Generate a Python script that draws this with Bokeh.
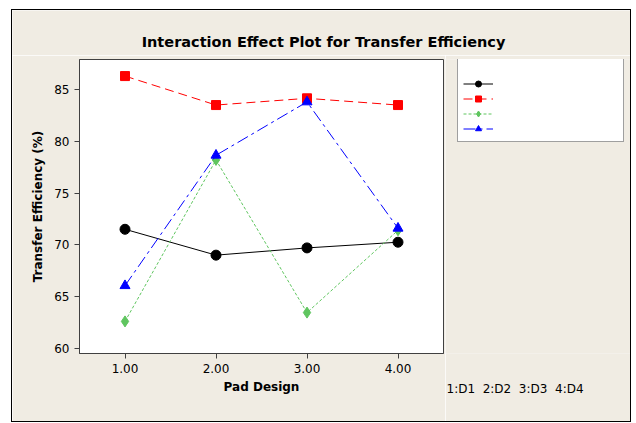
from bokeh.plotting import figure
from bokeh.models import Legend, LegendItem, Label, FixedTicker, Range1d, Title
from bokeh.layouts import column, row
from bokeh.embed import file_html
from bokeh.resources import INLINE

pad_design = [1, 2, 3, 4]
tick_labels = {1: "1.00", 2: "2.00", 3: "3.00", 4: "4.00"}
square = [71.5, 69.0, 69.7, 70.25]
circle = [86.3, 83.5, 84.15, 83.5]
home_plate = [62.6, 78.2, 63.45, 71.4]
radiused = [66.05, 78.65, 83.8, 71.6]
series_names = ["Square", "Circle", "Home Plate", "Radiused Home plate"]
legend_title = "Aperture Shape"
chart_title = "Interaction Effect Plot for Transfer Efficiency"
design_note = "1:D1\u00a0 2:D2\u00a0 3:D3\u00a0 4:D4"

BG = "#F0ECE3"
FONT = "DejaVu Sans"

series_values = [square, circle, home_plate, radiused]
styles = [
    dict(color="black", dash="solid", marker="circle", size=10),
    dict(color="red", dash="9 5", marker="square", size=9),
    dict(color="#5FC55F", dash="3 2", marker="diamond", size=11),
    dict(color="blue", dash="12 4 3 4", marker="triangle", size=10),
]


def blank_fig(w, h, xr=(0, 1), yr=(0, 1), **kw):
    f = figure(width=w, height=h, output_backend="svg", toolbar_location=None,
               x_range=Range1d(*xr), y_range=Range1d(*yr),
               x_axis_location=None, y_axis_location=None,
               background_fill_color=BG, border_fill_color=BG, **kw)
    f.grid.visible = False
    f.outline_line_color = None
    f.title = None
    return f


# ---- title strip
tf = blank_fig(618, 45, min_border=0)
tf.add_layout(Label(x=311, y=14, x_units="screen", y_units="screen", text=chart_title,
                    text_font=FONT, text_font_size="14.5px", text_font_style="bold",
                    text_align="center", text_baseline="middle", text_color="black"))

# ---- main plot
p = figure(width=433, height=366, output_backend="svg", toolbar_location=None,
           x_range=Range1d(0.5, 4.5), y_range=Range1d(59.5, 87.9),
           min_border_left=67, min_border_top=4, min_border_right=2, min_border_bottom=68,
           background_fill_color="white", border_fill_color=BG)
p.title = None
p.grid.visible = False
p.outline_line_color = "#404040"
p.outline_line_width = 1

p.xaxis.ticker = FixedTicker(ticks=pad_design)
p.xaxis.major_label_overrides = tick_labels
p.yaxis.ticker = FixedTicker(ticks=[60, 65, 70, 75, 80, 85])
for ax in (p.xaxis[0], p.yaxis[0]):
    ax.axis_line_color = "#404040"
    ax.major_tick_line_color = "#404040"
    ax.major_tick_out = 5
    ax.major_tick_in = 0
    ax.minor_tick_line_color = None
    ax.major_label_text_font = FONT
    ax.major_label_text_font_size = "12px"
    ax.major_label_text_color = "black"
    ax.axis_label_text_font = FONT
    ax.axis_label_text_font_size = "12px"
    ax.axis_label_text_font_style = "bold"
    ax.axis_label_text_color = "black"
p.xaxis.axis_label = "Pad Design"
p.yaxis.axis_label = "Transfer Efficiency (%)"
p.xaxis.axis_label_standoff = 4
p.yaxis.axis_label_standoff = 6

for vals, st in zip(series_values, styles):
    p.line(pad_design, vals, line_color=st["color"], line_width=1, line_dash=st["dash"])
    p.scatter(pad_design, vals, marker=st["marker"], size=st["size"], color=st["color"])

# ---- legend strip: same top/bottom borders as the main plot so the frames line up.
# Its ranges lie far from the data, so the proxy series are only seen as legend samples.
lf = blank_fig(185, 366, xr=(100, 101), yr=(0, 1), min_border_left=0, min_border_right=0,
               min_border_top=4, min_border_bottom=68)
items = []
for vals, st in zip(series_values, styles):
    lr = lf.line(pad_design, vals, line_color=st["color"], line_width=1, line_dash=st["dash"])
    mr = lf.scatter(pad_design, vals, marker=st["marker"], size=st["size"], color=st["color"])
    items.append(LegendItem(label="\u00a0", renderers=[lr, mr]))
legend = Legend(items=items, location=(12, 211), title="\u00a0")
legend.title_text_font = FONT
legend.title_text_font_size = "9.5px"
legend.title_standoff = 1
legend.label_text_font = FONT
legend.label_text_font_size = "9.5px"
legend.label_width = 120
legend.label_height = 15
legend.glyph_height = 15
legend.glyph_width = 30
legend.spacing = 0
legend.padding = 5
legend.margin = 0
legend.border_line_color = "#404040"
legend.background_fill_color = "white"
legend.background_fill_alpha = 1
lf.add_layout(legend)

text_y = [282.5, 268.5, 253.5, 238.5, 223.5]
for txt, yy in zip([legend_title] + series_names, text_y):
    lf.add_layout(Label(x=163, y=yy, x_units="screen", y_units="screen", text=txt,
                        text_font=FONT, text_font_size="9.5px", text_align="right",
                        text_baseline="middle", text_color="black", level="overlay"))

note = Title(text=design_note, align="left", offset=1, standoff=52,
             text_font=FONT, text_font_size="12px", text_font_style="normal",
             text_color="black")
lf.add_layout(note, "below")

layout = column(tf, row(p, lf), styles={"border": "1px solid black",
                                         "margin-left": "11px", "margin-top": "9px"})

open("out.html", "w").write(file_html(layout, INLINE))
